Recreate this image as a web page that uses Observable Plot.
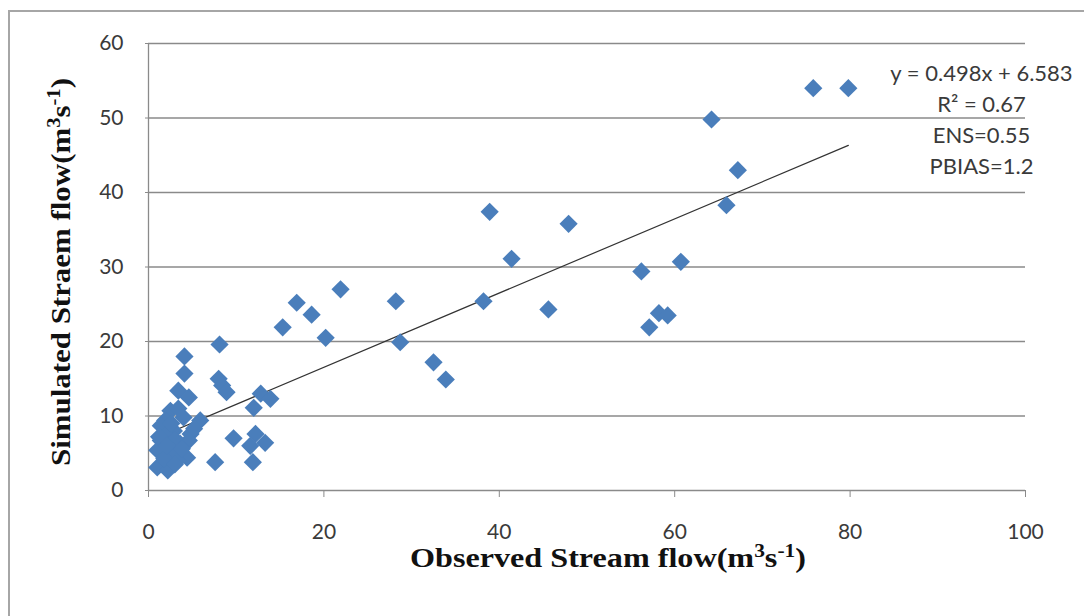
<!DOCTYPE html>
<html>
<head>
<meta charset="utf-8">
<script src="https://cdn.jsdelivr.net/npm/d3@7"></script>
<script src="https://cdn.jsdelivr.net/npm/@observablehq/plot@0.6"></script>
<style>
  html, body { margin: 0; padding: 0; background: #fff; overflow: hidden; }
  #wrap { position: relative; width: 1084px; height: 616px; }
  #frame { position: absolute; left: 8px; top: 10px; width: 1100px; height: 640px;
           border-top: 2px solid #a6a6a6; border-left: 2px solid #a6a6a6; box-sizing: border-box; }
  #chart { position: absolute; left: 0; top: 0; }
</style>
</head>
<body>
<div id="wrap"><div id="frame"></div><div id="chart"></div></div>
<script>
// Observed vs simulated stream flow (m3/s)
const observed = [
  79.8, 75.8, 64.2, 67.2, 65.9, 47.9, 38.9, 41.4, 60.7, 56.2,
  38.2, 45.6, 58.2, 59.2, 57.1, 28.2, 28.7, 32.5, 33.9, 21.9,
  16.9, 18.6, 15.3, 20.2, 8.1, 4.1, 4.1, 8.0, 8.4, 8.9,
  3.4, 4.6, 12.8, 13.9, 12.0, 9.7, 12.2, 13.3, 11.6, 7.6,
  11.9, 2.5, 1.9, 4.0, 5.9, 2.9, 4.8, 1.4, 3.6, 1.0,
  2.5, 4.4, 1.0, 2.2, 3.3, 4.6, 3.4, 1.4, 2.0, 3.0,
  1.8, 3.8, 2.6, 1.2, 3.0, 5.2, 2.1
];
const simulated = [
  54.0, 54.0, 49.8, 43.0, 38.3, 35.8, 37.4, 31.1, 30.7, 29.4,
  25.4, 24.3, 23.8, 23.5, 21.9, 25.4, 19.9, 17.2, 14.9, 27.0,
  25.2, 23.6, 21.9, 20.5, 19.6, 18.0, 15.7, 15.0, 14.1, 13.2,
  13.4, 12.5, 13.0, 12.3, 11.1, 7.0, 7.6, 6.4, 6.0, 3.8,
  3.8, 10.7, 9.4, 9.8, 9.4, 8.0, 7.6, 6.7, 6.3, 5.4,
  5.0, 4.4, 3.1, 2.7, 4.0, 6.7, 11.0, 8.7, 7.5, 6.8,
  4.3, 5.6, 9.0, 7.2, 3.5, 8.3, 6.0
];
const xTicks = [0, 20, 40, 60, 80, 100];
const yTicks = [0, 10, 20, 30, 40, 50, 60];
const slope = 0.498;
const intercept = 6.583;
const statsLines = ["y = 0.498x + 6.583", "R² = 0.67", "ENS=0.55", "PBIAS=1.2"];
const xTitle = ["Observed Stream flow(m", "3", "s", "-1", ")"];
const yTitle = ["Simulated Straem flow(m", "3", "s", "-1", ")"];

const points = observed.map((o, i) => ({obs: o, sim: simulated[i]}));
const xExt = d3.extent(observed);
const fitLine = xExt.map(x => ({x, y: slope * x + intercept}));

const plot = Plot.plot({
  width: 1084,
  height: 616,
  marginLeft: 148,
  marginRight: 59,
  marginTop: 43,
  marginBottom: 126,
  style: {fontFamily: "Lato, sans-serif", fontSize: "21px", background: "transparent", overflow: "visible"},
  x: {domain: [0, 100]},
  y: {domain: [0, 60]},
  marks: [
    Plot.gridY(yTicks.filter(d => d > 0), {stroke: "#8a8a8a", strokeOpacity: 1, strokeWidth: 1.3}),
    Plot.ruleY([0], {stroke: "#8a8a8a", strokeWidth: 1.3}),
    Plot.ruleX([0], {stroke: "#8a8a8a", strokeWidth: 1.3}),
    Plot.axisY(yTicks, {tickSize: 3, tickPadding: 22, stroke: "#8a8a8a", fill: "#3a3a3a", label: null, tickFormat: d => String(d)}),
    Plot.axisX(xTicks, {tickSize: 7, tickPadding: 27, stroke: "#8a8a8a", fill: "#3a3a3a", label: null, tickFormat: d => String(d)}),
    Plot.line(fitLine, {x: "x", y: "y", stroke: "#333", strokeWidth: 1.2}),
    Plot.dot(points, {x: "obs", y: "sim", symbol: "diamond2", r: 8.2, fill: "#4a7ebb", stroke: "none"}),
    Plot.text([statsLines.join("\n")], {
      frameAnchor: "top-right", dx: -44, dy: 15, textAnchor: "middle", lineAnchor: "top",
      lineHeight: 1.42, fontSize: 22, fill: "#3a3a3a", fontFamily: "Lato, sans-serif"
    })
  ]
});

const svg = d3.select(plot);
function addTitle(parts, attrs, length) {
  const t = svg.append("text")
    .attr("font-family", "'Liberation Serif', 'Times New Roman', serif")
    .attr("font-weight", "bold")
    .attr("font-size", 27)
    .attr("fill", "#111")
    .attr("text-anchor", "middle");
  Object.entries(attrs).forEach(([k, v]) => t.attr(k, v));
  t.append("tspan").text(parts[0]);
  t.append("tspan").attr("dy", -10).attr("font-size", 18).text(parts[1]);
  t.append("tspan").attr("dy", 10).text(parts[2]);
  t.append("tspan").attr("dy", -10).attr("font-size", 18).text(parts[3]);
  t.append("tspan").attr("dy", 10).text(parts[4]);
  t.attr("textLength", length).attr("lengthAdjust", "spacingAndGlyphs");
}
addTitle(xTitle, {x: 608, y: 567}, 396);
addTitle(yTitle, {transform: "translate(70,272) rotate(-90)"}, 388);

document.getElementById("chart").appendChild(plot);
</script>
</body>
</html>
